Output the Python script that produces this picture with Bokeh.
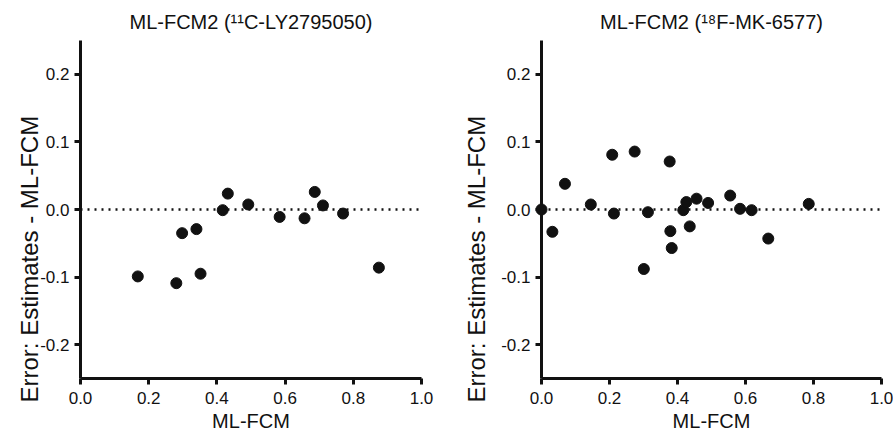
from bokeh.plotting import figure
from bokeh.layouts import row
from bokeh.models import FixedTicker, NumeralTickFormatter, Span, Range1d, Title
from bokeh.embed import file_html
from bokeh.resources import INLINE

# ---- data ----
titles = ["ML-FCM2 (\u00b9\u00b9C-LY2795050)", "ML-FCM2 (\u00b9\u2078F-MK-6577)"]
x_label = "ML-FCM"
y_label = "Error: Estimates - ML-FCM"
x_ticks = [0.0, 0.2, 0.4, 0.6, 0.8, 1.0]
y_ticks = [-0.2, -0.1, 0.0, 0.1, 0.2]

ly_x = [0.168, 0.281, 0.298, 0.340, 0.352, 0.417, 0.432, 0.492, 0.584, 0.657, 0.687, 0.711, 0.770, 0.875]
ly_y = [-0.099, -0.109, -0.035, -0.029, -0.095, -0.001, 0.0235, 0.0074, -0.011, -0.013, 0.026, 0.006, -0.006, -0.086]

mk_x = [0.0, 0.032, 0.069, 0.145, 0.208, 0.213, 0.274, 0.301, 0.313, 0.377, 0.379, 0.383,
        0.417, 0.426, 0.436, 0.456, 0.490, 0.555, 0.584, 0.618, 0.667, 0.786]
mk_y = [0.0, -0.033, 0.038, 0.0074, 0.081, -0.006, 0.0857, -0.088, -0.004, 0.071, -0.032, -0.057,
        -0.001, 0.011, -0.025, 0.016, 0.0097, 0.0206, 0.001, -0.001, -0.043, 0.0083]

FONT = "Liberation Sans"
INK = "#111111"


def make(title, xs, ys, border_left, border_right, frame_w, ylab_standoff):
    p = figure(output_backend="svg", toolbar_location=None,
               frame_width=frame_w, frame_height=338,
               min_border_left=border_left, min_border_right=border_right,
               min_border_top=40, min_border_bottom=52,
               x_range=Range1d(0, 1), y_range=Range1d(-0.25, 0.25),
               title=title)
    p.outline_line_color = None
    p.xgrid.visible = False
    p.ygrid.visible = False
    p.background_fill_color = "white"
    p.border_fill_color = "white"
    p.title.align = "center"
    p.title.text_font = FONT
    p.title.text_font_style = "normal"
    p.title.text_font_size = "20px"
    p.title.text_color = INK
    p.title.offset = 0
    p.title.standoff = 15

    for ax in (p.xaxis[0], p.yaxis[0]):
        ax.axis_line_width = 3
        ax.axis_line_color = INK
        ax.major_tick_line_width = 3
        ax.major_tick_line_color = INK
        ax.major_tick_in = 0
        ax.major_tick_out = 6
        ax.minor_tick_line_color = None
        ax.major_label_text_font = FONT
        ax.major_label_text_font_size = "17px"
        ax.major_label_text_color = INK
        ax.axis_label_text_font = FONT
        ax.axis_label_text_font_style = "normal"
        ax.axis_label_text_color = INK

    p.xaxis.ticker = FixedTicker(ticks=x_ticks)
    p.yaxis.ticker = FixedTicker(ticks=y_ticks)
    p.xaxis.formatter = NumeralTickFormatter(format="0.0")
    p.yaxis.formatter = NumeralTickFormatter(format="0.0")
    p.xaxis.major_label_standoff = 7
    p.yaxis.major_label_standoff = 5
    p.xaxis.axis_label = x_label
    p.xaxis.axis_label_text_font_size = "20px"
    p.xaxis.axis_label_standoff = 3

    p.add_layout(Span(location=0, dimension="width", line_color=INK,
                      line_width=2.5, line_dash="2 5"))

    p.scatter(xs, ys, size=11, color=INK, level="overlay")

    ylab = Title(text=y_label, align="left", offset=-24, standoff=ylab_standoff,
                 text_font=FONT, text_font_style="normal", text_font_size="24px",
                 text_color=INK)
    p.add_layout(ylab, "left")
    return p


p1 = make(titles[0], ly_x, ly_y, 80, 28, 341, -10)
p2 = make(titles[1], mk_x, mk_y, 92, 12, 340, 17)

layout = row(p1, p2)
open("out.html", "w").write(file_html(layout, INLINE))
